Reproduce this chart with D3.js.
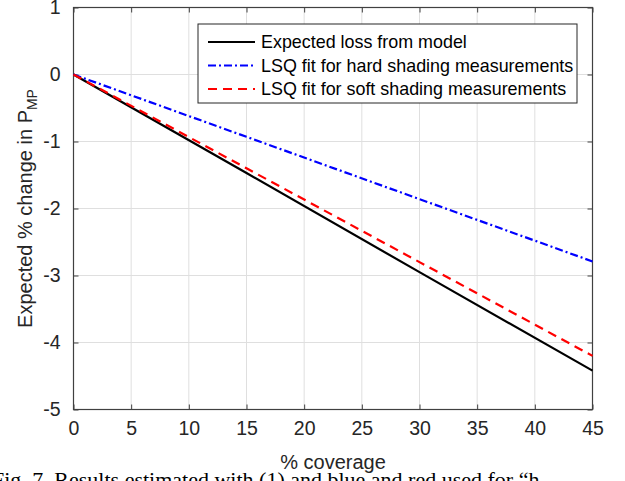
<!DOCTYPE html>
<html>
<head>
<meta charset="utf-8">
<script src="https://cdn.jsdelivr.net/npm/d3@7"></script>
<style>
  body { margin: 0; background: #fff; overflow: hidden; }
  svg { display: block; font-family: 'Liberation Sans', Arial, sans-serif; }
</style>
</head>
<body>
<svg width="625" height="481"></svg>
<script>
// values
const coverage = [0, 15, 30, 45];
const expectedLoss = [0, -1.47, -2.95, -4.42];
const hardFit = [0, -0.93, -1.86, -2.79];
const softFit = [0, -1.40, -2.80, -4.20];
const xTicks = [0, 5, 10, 15, 20, 25, 30, 35, 40, 45];
const yTicks = [1, 0, -1, -2, -3, -4, -5];
const seriesNames = ['Expected loss from model', 'LSQ fit for hard shading measurements', 'LSQ fit for soft shading measurements'];

const svg = d3.select('svg');
const margin = {top: 7.5, right: 32.5, bottom: 71.5, left: 73.5};
const width = +svg.attr('width');
const height = +svg.attr('height');
const innerWidth = width - margin.left - margin.right;
const innerHeight = height - margin.top - margin.bottom;

const xScale = d3.scaleLinear().domain([0, 45]).range([0, innerWidth]);
const yScale = d3.scaleLinear().domain([-5, 1]).range([innerHeight, 0]);

const g = svg.append('g')
    .attr('transform', `translate(${margin.left}, ${margin.top})`);

// grid
g.append('g').selectAll('line').data(xTicks).enter().append('line')
    .attr('x1', d => xScale(d)).attr('x2', d => xScale(d))
    .attr('y1', 0).attr('y2', innerHeight)
    .attr('stroke', '#dfdfdf').attr('stroke-width', 1);
g.append('g').selectAll('line').data(yTicks).enter().append('line')
    .attr('y1', d => yScale(d)).attr('y2', d => yScale(d))
    .attr('x1', 0).attr('x2', innerWidth)
    .attr('stroke', '#dfdfdf').attr('stroke-width', 1);

const axisColor = '#404040';
const tickText = d => String(d);
const styleAxis = sel => {
    sel.select('.domain').remove();
    sel.selectAll('line').attr('stroke', axisColor);
    sel.selectAll('text')
        .attr('fill', '#262626')
        .style('font-size', '19.5px')
        .style('font-family', "'Liberation Sans', Arial, sans-serif");
};

const xAxisG = g.append('g')
    .attr('transform', `translate(0, ${innerHeight})`)
    .call(d3.axisBottom(xScale).tickValues(xTicks).tickFormat(tickText)
        .tickSizeInner(-5).tickSizeOuter(0).tickPadding(12));
styleAxis(xAxisG);

g.append('g')
    .call(d3.axisTop(xScale).tickValues(xTicks).tickSizeInner(-5).tickSizeOuter(0).tickFormat(''))
    .call(styleAxis);

const yAxisG = g.append('g')
    .call(d3.axisLeft(yScale).tickValues(yTicks).tickFormat(tickText)
        .tickSizeInner(-5).tickSizeOuter(0).tickPadding(13));
styleAxis(yAxisG);

g.append('g')
    .attr('transform', `translate(${innerWidth}, 0)`)
    .call(d3.axisRight(yScale).tickValues(yTicks).tickSizeInner(-5).tickSizeOuter(0).tickFormat(''))
    .call(styleAxis);

g.append('rect')
    .attr('width', innerWidth).attr('height', innerHeight)
    .attr('fill', 'none').attr('stroke', axisColor).attr('stroke-width', 1.2);

// lines
const series = [
    {name: seriesNames[0], values: expectedLoss, color: '#000000', dash: null},
    {name: seriesNames[1], values: hardFit, color: '#0000ff', dash: '8,3,2,3'},
    {name: seriesNames[2], values: softFit, color: '#ff0000', dash: '9,6'}
];

const line = d3.line()
    .x(d => xScale(d[0]))
    .y(d => yScale(d[1]));

g.selectAll('.series').data(series).enter().append('path')
    .attr('class', 'series')
    .attr('d', s => line(coverage.map((c, i) => [c, s.values[i]])))
    .attr('fill', 'none')
    .attr('stroke', s => s.color)
    .attr('stroke-width', 2.2)
    .attr('stroke-dasharray', s => s.dash);

// legend
const legend = svg.append('g').attr('transform', 'translate(198, 24)');
legend.append('rect')
    .attr('width', 379).attr('height', 79)
    .attr('fill', '#fff').attr('stroke', '#262626').attr('stroke-width', 1);
const rows = legend.selectAll('.row').data(series).enter().append('g')
    .attr('transform', (d, i) => `translate(0, ${18 + i * 23.5})`);
rows.append('line')
    .attr('x1', 10).attr('x2', 57).attr('y1', 0).attr('y2', 0)
    .attr('stroke', d => d.color).attr('stroke-width', 2.2)
    .attr('stroke-dasharray', d => d.dash);
rows.append('text')
    .attr('x', 63).attr('y', 0).attr('dy', '0.35em')
    .style('font-size', '17.9px')
    .attr('fill', '#000')
    .text(d => d.name);

// axis labels
svg.append('text')
    .attr('x', margin.left + innerWidth / 2).attr('y', 469)
    .attr('text-anchor', 'middle')
    .style('font-size', '20px').attr('fill', '#262626')
    .text('% coverage');

const yLab = svg.append('text')
    .attr('transform', `translate(32, ${margin.top + innerHeight / 2}) rotate(-90)`)
    .attr('text-anchor', 'middle')
    .style('font-size', '20px').attr('fill', '#262626');
yLab.append('tspan').text('Expected % change in P');
yLab.append('tspan').attr('dy', 5).style('font-size', '14px').text('MP');

// clipped caption under the figure
svg.append('text')
    .attr('x', -8).attr('y', 487)
    .style('font-family', "'Liberation Serif', 'Times New Roman', serif")
    .style('font-size', '22px').attr('fill', '#000')
    .text('Fig. 7.    Results estimated with (1) and blue and red used for \u201ch');
</script>
</body>
</html>
